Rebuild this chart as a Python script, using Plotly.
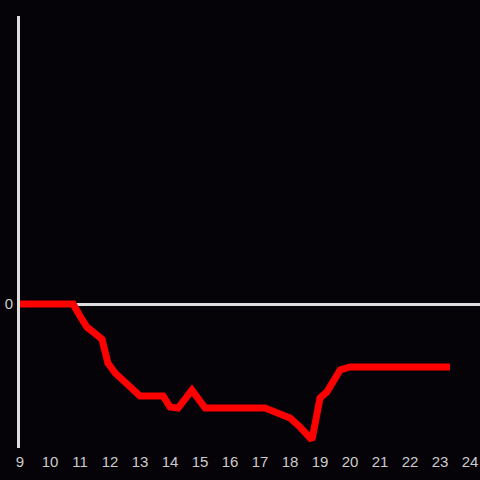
import plotly.graph_objects as go

hours = [9.0, 10.77, 11.0, 11.23, 11.73, 11.93, 12.17, 13.0, 13.77, 14.0, 14.27, 14.73,
         15.17, 17.17, 17.5, 18.0, 18.33, 18.73, 19.0, 19.23, 19.67, 20.0, 23.33]
values = [0, 0, -0.4, -0.77, -1.17, -1.97, -2.3, -3.07, -3.07, -3.43, -3.47, -2.87,
          -3.47, -3.47, -3.6, -3.8, -4.1, -4.53, -3.13, -2.93, -2.2, -2.1, -2.1]
x_ticks = list(range(9, 25))
y_ticks = [0]

fig = go.Figure()
fig.add_trace(go.Scatter(x=hours, y=values, mode="lines",
                         line=dict(color="#ff0000", width=7), hoverinfo="skip"))

fig.update_layout(
    width=480, height=480,
    margin=dict(l=20, r=0, t=16, b=32),
    paper_bgcolor="#050307", plot_bgcolor="#050307",
    showlegend=False,
    font=dict(color="#cccccc", size=15, family="Liberation Sans, Arial, sans-serif"),
    xaxis=dict(range=[9, 24.33], tickvals=x_ticks, ticktext=[str(t) for t in x_ticks],
               showgrid=False, zeroline=False, showline=False, ticks="", ticklabelstandoff=3),
    yaxis=dict(range=[-4.8, 9.6], tickvals=y_ticks, ticktext=["0"],
               showgrid=False, zeroline=True, zerolinecolor="#dddddd", zerolinewidth=3,
               showline=True, linecolor="#dddddd", linewidth=3, ticks="", ticklabelstandoff=1),
)
fig.write_html("out.html", config={"displayModeBar": False})

with open("out.html", encoding="utf-8") as f:
    html = f.read()
html = html.replace("<head>", "<head><style>html,body{margin:0;padding:0;background:#050307;overflow:hidden;}</style>", 1)
with open("out.html", "w", encoding="utf-8") as f:
    f.write(html)
